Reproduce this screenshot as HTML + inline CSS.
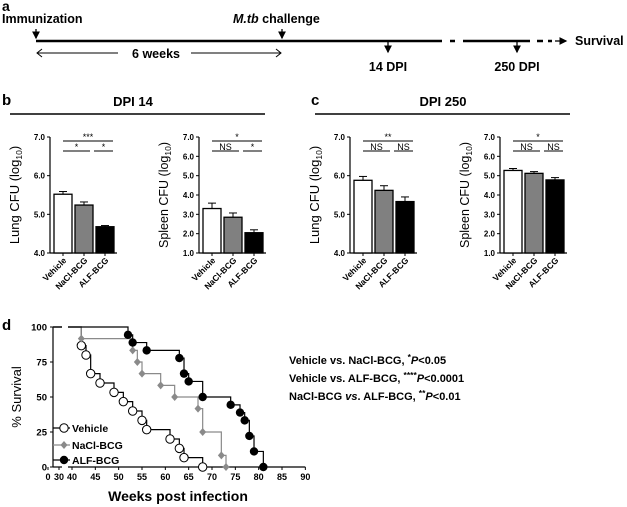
<!DOCTYPE html>
<html><head><meta charset="utf-8">
<style>
html,body{margin:0;padding:0;background:#fff;}
svg{display:block;font-family:"Liberation Sans",Arial,sans-serif;font-weight:bold;}
</style></head>
<body>
<svg id="fig" width="627" height="507" viewBox="0 0 627 507">
<defs>
<marker id="ah" markerWidth="6" markerHeight="6" refX="5" refY="3" orient="auto"><path d="M0,0 L6,3 L0,6 Z" fill="#000"/></marker>
</defs>
<g>
<text x="2" y="11" font-size="14">a</text>
<text x="2" y="23" font-size="12.5">Immunization</text>
<text x="233" y="23" font-size="12.5"><tspan font-style="italic">M.tb</tspan> challenge</text>
<line x1="36" y1="41" x2="442" y2="41" stroke="#000" stroke-width="2.5"/>
<line x1="450" y1="41" x2="455" y2="41" stroke="#000" stroke-width="2.5"/>
<line x1="463" y1="41" x2="530" y2="41" stroke="#000" stroke-width="2.5"/>
<line x1="537" y1="41" x2="543" y2="41" stroke="#000" stroke-width="2.5"/>
<line x1="548" y1="41" x2="552" y2="41" stroke="#000" stroke-width="2.5"/>
<line x1="555" y1="41" x2="566" y2="41" stroke="#000" stroke-width="1.3" marker-end="url(#ah)"/>
<text x="575" y="45" font-size="12.5">Survival</text>
<line x1="36" y1="29" x2="36" y2="38" stroke="#000" stroke-width="1.3" marker-end="url(#ah)"/>
<line x1="282" y1="29" x2="282" y2="38" stroke="#000" stroke-width="1.3" marker-end="url(#ah)"/>
<line x1="388" y1="42" x2="388" y2="52" stroke="#000" stroke-width="1.3" marker-end="url(#ah)"/>
<line x1="517" y1="42" x2="517" y2="52" stroke="#000" stroke-width="1.3" marker-end="url(#ah)"/>
<path d="M42,49 L37,53 L42,57 M37,53 L118,53" stroke="#000" fill="none" stroke-width="1"/>
<path d="M191,53 L281,53 M276,49 L281,53 L276,57" stroke="#000" fill="none" stroke-width="1"/>
<text x="156" y="58" font-size="12.5" text-anchor="middle">6 weeks</text>
<text x="388" y="71" font-size="12.5" text-anchor="middle">14 DPI</text>
<text x="517" y="71" font-size="12.5" text-anchor="middle">250 DPI</text>
</g>
<text x="2" y="105" font-size="15">b</text>
<text x="133" y="106" font-size="13" text-anchor="middle">DPI 14</text>
<line x1="10" y1="114" x2="265" y2="114" stroke="#000" stroke-width="1.5"/>
<text x="311" y="105" font-size="15">c</text>
<text x="443" y="106" font-size="13" text-anchor="middle">DPI 250</text>
<line x1="315" y1="114" x2="570" y2="114" stroke="#000" stroke-width="1.5"/>
<g id="bars"></g>
<text x="2" y="330" font-size="15">d</text>
<g id="surv"></g>
<text x="289" y="364" font-size="11">Vehicle vs. NaCl-BCG, <tspan dy="-4" font-size="8.5">*</tspan><tspan dy="4" font-style="italic">P</tspan>&lt;0.05</text>
<text x="289" y="382" font-size="11">Vehicle vs. ALF-BCG, <tspan dy="-4" font-size="8.5">****</tspan><tspan dy="4" font-style="italic">P</tspan>&lt;0.0001</text>
<text x="289" y="400" font-size="11">NaCl-BCG <tspan font-style="italic">vs</tspan>. ALF-BCG, <tspan dy="-4" font-size="8.5">**</tspan><tspan dy="4" font-style="italic">P</tspan>&lt;0.01</text>
</svg>
<script>
const NS="http://www.w3.org/2000/svg";
const groups=["Vehicle","NaCl-BCG","ALF-BCG"];
const lung14=[5.52,5.24,4.68], lung14Err=[0.07,0.08,0.03];
const spleen14=[3.3,2.85,2.05], spleen14Err=[0.28,0.22,0.15];
const lung250=[5.88,5.62,5.33], lung250Err=[0.1,0.12,0.12];
const spleen250=[5.27,5.12,4.78], spleen250Err=[0.1,0.09,0.12];
const lungTicks=[4.0,5.0,6.0,7.0];
const spleenTicks=[1.0,2.0,3.0,4.0,5.0,6.0,7.0];
const sig14L=["***","*","*"], sig14S=["*","NS","*"], sig250L=["**","NS","NS"], sig250S=["*","NS","NS"];
const barFills=["#fff","#808080","#000"];

function el(tag,attrs,parent,txt){const e=document.createElementNS(NS,tag);for(const k in attrs)e.setAttribute(k,attrs[k]);if(txt!==undefined)e.textContent=txt;parent.appendChild(e);return e;}

function barChart(name,ax,vals,errs,ticks,ylab,sig,tsize){
  const root=document.getElementById('bars');
  const g=el('g',{},root);
  
  
  const yTop=137,yBot=253,lo=ticks[0],hi=ticks[ticks.length-1];
  const y=v=>yBot-(v-lo)/(hi-lo)*(yBot-yTop);
  const bw=18,step=21,x0=ax+4;
  const cx=i=>x0+i*step+bw/2;
  el('line',{x1:ax,y1:yTop,x2:ax,y2:yBot,stroke:'#000','stroke-width':1.2},g);
  el('line',{x1:ax,y1:yBot,x2:ax+4+3*step,y2:yBot,stroke:'#000','stroke-width':1.2},g);
  ticks.forEach(t=>{
    el('line',{x1:ax-3,y1:y(t),x2:ax,y2:y(t),stroke:'#000','stroke-width':1},g);
    const tx=el('text',{x:ax-5,y:y(t)+3,'font-size':8,'text-anchor':'end'},g,t.toFixed(1));
    
    
  });
  vals.forEach((v,i)=>{
    const e=errs[i];
    el('line',{x1:cx(i),y1:y(v+e),x2:cx(i),y2:y(v),stroke:'#000','stroke-width':1},g);
    el('line',{x1:cx(i)-4,y1:y(v+e),x2:cx(i)+4,y2:y(v+e),stroke:'#000','stroke-width':1},g);
    const r=el('rect',{x:cx(i)-bw/2,y:y(v),width:bw,height:yBot-y(v),fill:barFills[i],stroke:'#000','stroke-width':1.3},g);
    
    
    el('line',{x1:cx(i),y1:yBot,x2:cx(i),y2:yBot+3,stroke:'#000','stroke-width':1},g);
    const lbl=el('text',{transform:`translate(${cx(i)+4},${yBot+8}) rotate(-45)`,'font-size':8.5,'text-anchor':'end'},g,groups[i]);
    
    
  });
  const yl=el('text',{transform:`translate(${ax-31},${(yTop+yBot)/2}) rotate(-90)`,'font-size':tsize,'font-weight':'normal','text-anchor':'middle'},g);
  
  
  yl.innerHTML=ylab+' (log<tspan font-size="8.5" dy="3">10</tspan><tspan dy="-3">)</tspan>';
  const c0=cx(0),c1=cx(1),c2=cx(2);
  el('line',{x1:c0,y1:141,x2:c2+8,y2:141,stroke:'#000','stroke-width':1},g);
  el('text',{x:(c0+c2+8)/2,y:140,'font-size':9,'text-anchor':'middle','font-weight':'normal'},g,sig[0]);
  el('line',{x1:c0,y1:151,x2:c1+6,y2:151,stroke:'#000','stroke-width':1},g);
  el('text',{x:(c0+c1+6)/2,y:150,'font-size':9,'text-anchor':'middle','font-weight':'normal'},g,sig[1]);
  el('line',{x1:c1+10,y1:151,x2:c2+8,y2:151,stroke:'#000','stroke-width':1},g);
  el('text',{x:(c1+c2+18)/2,y:150,'font-size':9,'text-anchor':'middle','font-weight':'normal'},g,sig[2]);
}
barChart('lung-cfu-dpi14',50,lung14,lung14Err,lungTicks,'Lung CFU',sig14L,13);
barChart('spleen-cfu-dpi14',199,spleen14,spleen14Err,spleenTicks,'Spleen CFU',sig14S,12.5);
barChart('lung-cfu-dpi250',350,lung250,lung250Err,lungTicks,'Lung CFU',sig250L,13);
barChart('spleen-cfu-dpi250',500,spleen250,spleen250Err,spleenTicks,'Spleen CFU',sig250S,12.5);

const vehWeeks=[42,43,44,46,49,51,53,55,56,61,63,64,68];
const vehSurv=[86.7,80,66.7,60,53.3,46.7,40,33.3,26.7,20,13.3,6.7,0];
const naclWeeks=[42,53,54,55,59,62,67,68,72,73];
const naclSurv=[91.7,83.3,75,66.7,58.3,50,41.7,25,8.3,0];
const alfWeeks=[52,53,56,63,64,65,68,74,76,77,78,79,81];
const alfSurv=[94.4,88.9,83.3,77.8,66.7,61.1,50,44.4,38.9,33.3,22.2,11.1,0];
const xTicks=[0,30,40,45,50,55,60,65,70,75,80,85,90];
const yTicks=[0,25,50,75,100];
(function(){
  const g=document.getElementById('surv');
  
  
  const X=w=> w===0?48: w===30?59: 72+(w-40)*4.667;
  const Y=p=>467-p/100*140;
  el('line',{x1:53,y1:Y(100),x2:53,y2:Y(0),stroke:'#000','stroke-width':1.2},g);
  el('line',{x1:53,y1:467,x2:62,y2:467,stroke:'#000','stroke-width':1.2},g);
  el('line',{x1:68,y1:467,x2:X(90),y2:467,stroke:'#000','stroke-width':1.2},g);
  yTicks.forEach(t=>{
    el('line',{x1:50,y1:Y(t),x2:53,y2:Y(t),stroke:'#000'},g);
    const tt=el('text',{x:47,y:Y(t)+3.5,'font-size':9.5,'text-anchor':'end'},g,String(t));
    
    
  });
  xTicks.forEach(t=>{
    el('line',{x1:X(t),y1:467,x2:X(t),y2:470,stroke:'#000'},g);
    const tt=el('text',{x:X(t),y:480,'font-size':9,'text-anchor':'middle'},g,String(t));
    
    
  });
  const xt=el('text',{x:178,y:501,'font-size':14,'text-anchor':'middle'},g,'Weeks post infection');
  
  
  const yt=el('text',{transform:`translate(21,397) rotate(-90)`,'font-size':13,'font-weight':'normal','text-anchor':'middle'},g,'% Survival');
  
  
  function curve(name,weeks,surv,color,marker){
    let d=`M53,${Y(100)} L62,${Y(100)} M68,${Y(100)}`;
    let prev=100;
    weeks.forEach((w,i)=>{d+=` L${X(w)},${Y(prev)} L${X(w)},${Y(surv[i])}`;prev=surv[i];});
    const p=el('path',{d:d,fill:'none',stroke:color,'stroke-width':1.2},g);
    
    
    weeks.forEach((w,i)=>{
      let m;
      if(marker==='open') m=el('circle',{cx:X(w),cy:Y(surv[i]),r:4.2,fill:'#fff',stroke:'#000','stroke-width':1},g);
      else if(marker==='filled') m=el('circle',{cx:X(w),cy:Y(surv[i]),r:4.2,fill:'#000'},g);
      else {const x=X(w),y=Y(surv[i]);m=el('path',{d:`M${x},${y-4} L${x+3.5},${y} L${x},${y+4} L${x-3.5},${y} Z`,fill:'#8a8a8a'},g);}
      
      
    });
  }
  curve('vehicle',vehWeeks,vehSurv,'#000','open');
  curve('nacl-bcg',naclWeeks,naclSurv,'#8a8a8a','diamond');
  curve('alf-bcg',alfWeeks,alfSurv,'#000','filled');
  const lg=el('g',{},g);
  
  
  const items=[['Vehicle',428,'open','#000'],['NaCl-BCG',445,'diamond','#8a8a8a'],['ALF-BCG',460,'filled','#000']];
  items.forEach(([t,y,m,c])=>{
    const e=el('g',{},lg);
    
    
    el('line',{x1:53,y1:y,x2:70,y2:y,stroke:c,'stroke-width':1.2},e);
    if(m==='open') el('circle',{cx:64,cy:y,r:4.2,fill:'#fff',stroke:'#000'},e);
    else if(m==='filled') el('circle',{cx:64,cy:y,r:4.2,fill:'#000'},e);
    else el('path',{d:`M64,${y-4} L67.5,${y} L64,${y+4} L60.5,${y} Z`,fill:'#8a8a8a'},e);
    el('text',{x:72,y:y+4,'font-size':10.5},e,t);
  });
})();
</script>
</body></html>
